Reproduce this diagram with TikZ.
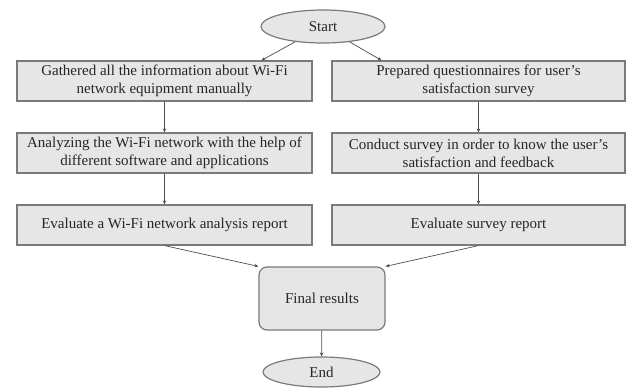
\documentclass[tikz,border=0pt]{standalone}
\usepackage{fontspec}
\setmainfont{Liberation Serif}
\usetikzlibrary{arrows.meta, shapes.geometric}
\definecolor{boxfill}{HTML}{E6E6E6}
\definecolor{boxline}{HTML}{7A7A7A}
\definecolor{arrowline}{HTML}{4D4D4D}
\definecolor{textgray}{HTML}{262626}

\begin{document}
\begin{tikzpicture}[x=1pt, y=-1pt, >={Stealth[length=4pt, width=3.5pt]},
        every node/.style={font=\fontsize{15}{18}\selectfont, text=textgray},
        stepbox/.style={draw=boxline, fill=boxfill, line width=1.2pt, minimum height=40pt, inner sep=0pt, align=center},
        endpoint/.style={ellipse, draw=boxline, fill=boxfill, line width=1.2pt, inner sep=0pt},
        link/.style={->, draw=arrowline, line width=0.7pt}]
        \useasboundingbox (0,0) rectangle (626,388);

        % 节点
        \node[endpoint, minimum width=124pt, minimum height=33pt] (start) at (323,26.5) {Start};
        \node[stepbox, minimum width=295pt] (info) at (164.5,81) {Gathered all the information about Wi-Fi\\network equipment manually};
        \node[stepbox, minimum width=293pt] (quest) at (478.5,81) {Prepared questionnaires for user’s\\satisfaction survey};
        \node[stepbox, minimum width=295pt] (analyze) at (164.5,153) {Analyzing the Wi-Fi network with the help of\\different software and applications};
        \node[stepbox, minimum width=293pt] (survey) at (478.5,153) {Conduct survey in order to know the user’s\\satisfaction and feedback};
        \node[stepbox, minimum width=295pt] (netreport) at (164.5,225) {Evaluate a Wi-Fi network analysis report};
        \node[stepbox, minimum width=293pt] (surreport) at (478.5,225) {Evaluate survey report};
        \node[stepbox, rounded corners=8pt, minimum width=126pt, minimum height=63pt] (final) at (322,298.5) {Final results};
        \node[endpoint, minimum width=117pt, minimum height=30pt] (stop) at (321.5,372) {End};

        % 箭头
        \draw[link] (start) -- (info.12);
        \draw[link] (start) -- (quest.168);
        \draw[link] (info) -- (analyze);
        \draw[link] (quest) -- (survey);
        \draw[link] (analyze) -- (netreport);
        \draw[link] (survey) -- (surreport);
        \draw[link] (netreport.south) -- (final.north west);
        \draw[link] (surreport.south) -- (final.north east);
        \draw[link] (final) -- (stop);
    \end{tikzpicture}
\end{document}
